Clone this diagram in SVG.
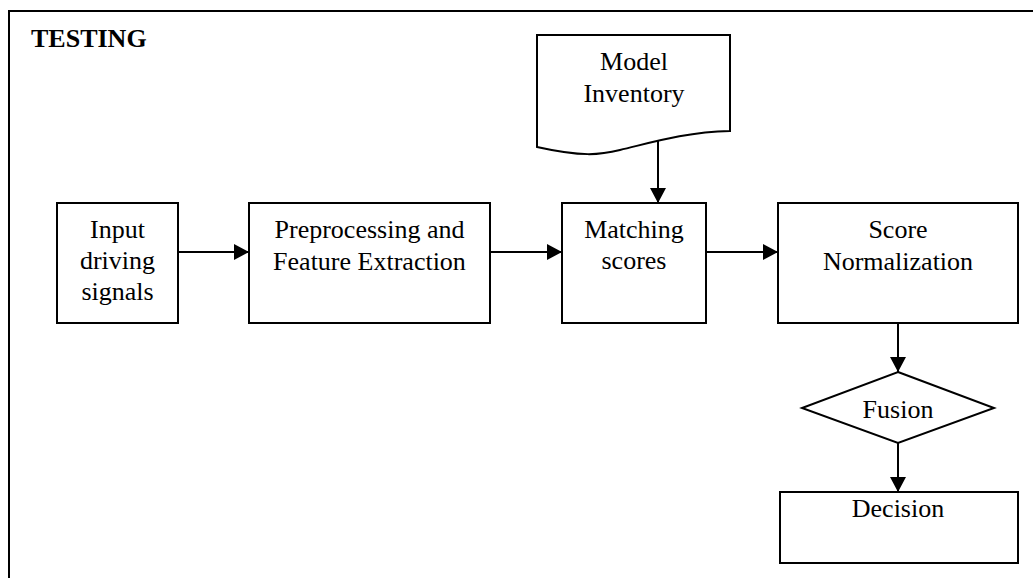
<svg xmlns="http://www.w3.org/2000/svg" width="1033" height="578" viewBox="0 0 1033 578">
<defs>
<style>
.box{fill:#fff;stroke:#000;stroke-width:2}
.t{font-family:"Liberation Serif","Times New Roman",serif;font-size:26px;fill:#000;text-anchor:middle}
.conn{stroke:#000;stroke-width:2;fill:none}
</style>
<marker id="ah" viewBox="0 0 15 16" refX="15" refY="8" markerWidth="15" markerHeight="16" markerUnits="userSpaceOnUse" orient="auto">
<path d="M0,0 L15,8 L0,16 Z" fill="#000"/>
</marker>
</defs>
<rect width="1033" height="578" fill="#fff"/>
<g id="frame">
<rect x="9" y="11" width="1100" height="700" fill="none" stroke="#000" stroke-width="2"/>
<text x="31" y="47" style="font-family:'Liberation Serif','Times New Roman',serif;font-size:26px;font-weight:bold">TESTING</text>
</g>
<g id="connectors">
<line class="conn" x1="178" y1="252" x2="249" y2="252" marker-end="url(#ah)"/>
<line class="conn" x1="490" y1="252" x2="562" y2="252" marker-end="url(#ah)"/>
<line class="conn" x1="706" y1="252" x2="778" y2="252" marker-end="url(#ah)"/>
<line class="conn" x1="658" y1="131" x2="658" y2="203" marker-end="url(#ah)"/>
<line class="conn" x1="898" y1="323" x2="898" y2="372" marker-end="url(#ah)"/>
<line class="conn" x1="898" y1="443" x2="898" y2="492" marker-end="url(#ah)"/>
</g>
<g id="model-inventory">
<path class="box" d="M537,35 H730 V131 C685,132 650,143 620,150 C600,155 582,157 537,147 Z"/>
<text class="t" x="634" y="70">Model</text>
<text class="t" x="634" y="102">Inventory</text>
</g>
<g id="input">
<rect class="box" x="57" y="203" width="121" height="120"/>
<text class="t" x="117.5" y="238">Input</text>
<text class="t" x="117.5" y="269">driving</text>
<text class="t" x="117.5" y="300">signals</text>
</g>
<g id="preprocessing">
<rect class="box" x="249" y="203" width="241" height="120"/>
<text class="t" x="369.5" y="238">Preprocessing and</text>
<text class="t" x="369.5" y="270">Feature Extraction</text>
</g>
<g id="matching">
<rect class="box" x="562" y="203" width="144" height="120"/>
<text class="t" x="634" y="238">Matching</text>
<text class="t" x="634" y="269">scores</text>
</g>
<g id="normalization">
<rect class="box" x="778" y="203" width="240" height="120"/>
<text class="t" x="898" y="238">Score</text>
<text class="t" x="898" y="270">Normalization</text>
</g>
<g id="fusion">
<polygon class="box" points="898,372 994,408 898,443 802,408"/>
<text class="t" x="898" y="418">Fusion</text>
</g>
<g id="decision">
<rect class="box" x="780" y="492" width="238" height="71"/>
<text class="t" x="898" y="517">Decision</text>
</g>
</svg>
